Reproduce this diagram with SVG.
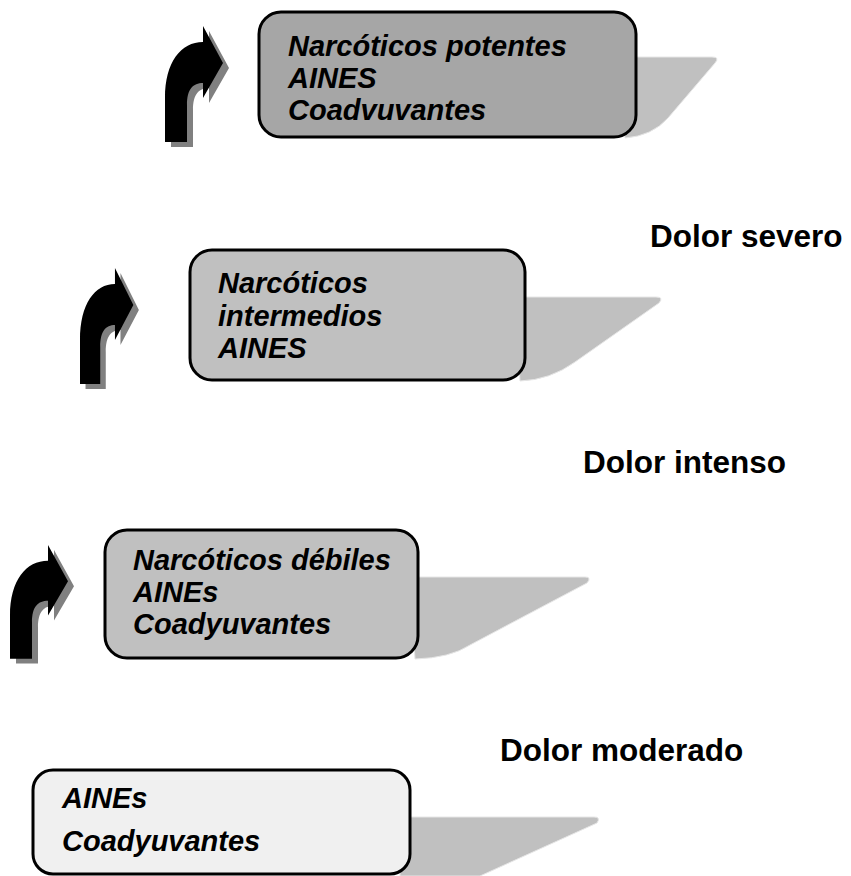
<svg xmlns="http://www.w3.org/2000/svg" width="851" height="876" viewBox="0 0 851 876">
<style>
.t{font-family:"Liberation Sans",Arial,sans-serif;font-weight:bold;font-style:italic;font-size:29px;fill:#000}
.d{font-family:"Liberation Sans",Arial,sans-serif;font-weight:bold;font-size:31.5px;fill:#000}
.box{stroke:#000;stroke-width:3}
.sh{fill:#c0c0c0;stroke:#e6e6e6;stroke-width:1}
.ar{fill:#000}
.ars{fill:#808080}
</style>
<defs>
<path id="arrow" d="M0,116 L0,72 C0,36 16,16 38,16 L38,0 L58,37 L38,72 L38,57 C28,57 22,63 22,79 L22,116 Z"/>
</defs>
<rect width="851" height="876" fill="#fff"/>
<g id="connectors">
<g id="arrow1" transform="translate(165,26)"><use href="#arrow" class="ars" transform="translate(6,5)"/><use href="#arrow" class="ar"/></g>
<g id="arrow2" transform="translate(80,268) scale(0.92,1)"><use href="#arrow" class="ars" transform="translate(6,5)"/><use href="#arrow" class="ar"/></g>
<g id="arrow3" transform="translate(10,545) scale(1,0.98)"><use href="#arrow" class="ars" transform="translate(6,5)"/><use href="#arrow" class="ar"/></g>
</g>
<g id="box1">
<path class="sh" d="M620,57 L712,57 Q720,57 715,63 L668,118 Q652,136 625,138 Z"/>
<rect class="box" x="259" y="12" width="377" height="125" rx="22" fill="#a6a6a6"/>
<text class="t" x="288" y="56">Narcóticos potentes</text>
<text class="t" x="288" y="88">AINES</text>
<text class="t" x="288" y="120">Coadvuvantes</text>
</g>
<g id="label-severo"><text class="d" x="650" y="247">Dolor severo</text></g>
<g id="box2">
<path class="sh" d="M515,297 L656,297 Q664,297 659,303 L575,362 Q550,380 520,381 Z"/>
<rect class="box" x="190" y="250" width="335" height="130" rx="22" fill="#c0c0c0"/>
<text class="t" x="218" y="293">Narcóticos</text>
<text class="t" x="218" y="326">intermedios</text>
<text class="t" x="218" y="358">AINES</text>
</g>
<g id="label-intenso"><text class="d" x="583" y="473">Dolor intenso</text></g>
<g id="box3">
<path class="sh" d="M410,577 L585,577 Q592,577 587,583 L470,645 Q450,658 415,659 Z"/>
<rect class="box" x="105" y="530" width="313" height="128" rx="22" fill="#c0c0c0"/>
<text class="t" x="133" y="570">Narcóticos débiles</text>
<text class="t" x="133" y="602">AINEs</text>
<text class="t" x="133" y="634">Coadyuvantes</text>
</g>
<g id="label-moderado"><text class="d" x="500" y="761">Dolor moderado</text></g>
<g id="box4">
<path class="sh" d="M400,817 L594,817 Q601,817 597,823 L480,876 L400,876 Z"/>
<rect class="box" x="33" y="770" width="377" height="104" rx="20" fill="#f0f0f0"/>
<text class="t" x="62" y="808">AINEs</text>
<text class="t" x="62" y="851">Coadyuvantes</text>
</g>
</svg>
